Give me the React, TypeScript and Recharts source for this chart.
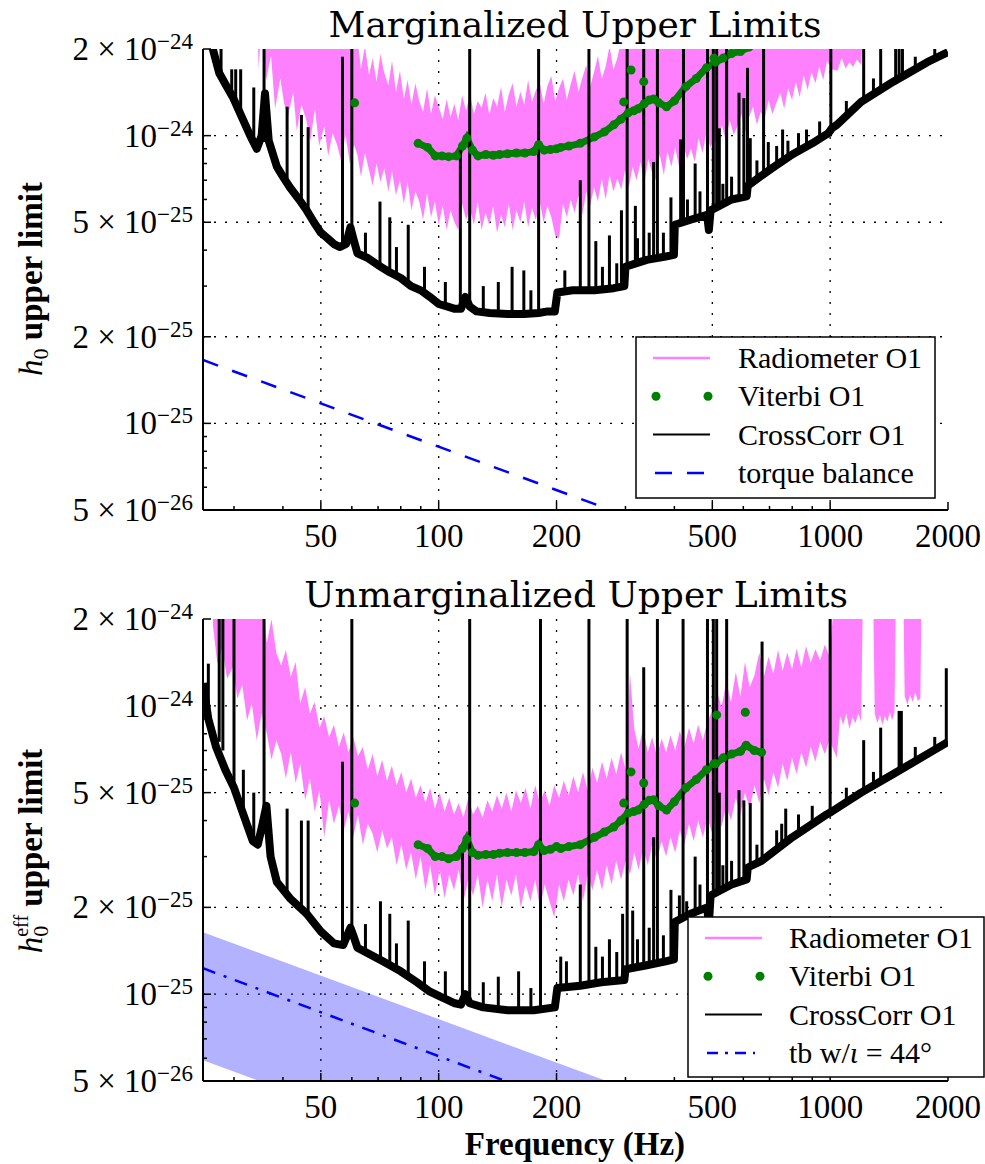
import React from 'react'
import { ComposedChart, Line, Area, XAxis, YAxis, CartesianGrid } from 'recharts'

const SERIF = '"Liberation Serif", "Times New Roman", serif'
const TITLE_FONT = '"DejaVu Serif", serif'
const PINK = '#ff80ff'
const GREEN = '#008000'
const BLUE = '#0000ff'

// frequency axis (Hz)
const X_MAJOR = [50, 100, 200, 500, 1000, 2000]
const X_MINOR = [30, 40, 60, 70, 80, 90, 300, 400, 600, 700, 800, 900]
const X_GRID = [50, 100, 200, 500, 1000]
const X_TICKS = [...X_MAJOR, ...X_MINOR].sort((a, b) => a - b)

// strain axis, values in units of 1e-25
const Y_MAJOR = [0.5, 1, 2, 5, 10, 20]
const Y_MINOR = [0.6, 0.7, 0.8, 0.9, 3, 4, 6, 7, 8, 9]
const Y_GRID = [1, 2, 5, 10]
const Y_TICKS = [...Y_MAJOR, ...Y_MINOR].sort((a, b) => a - b)
const Y_LABELS: Record<string, [string, string]> = {
  '20': ['2 × 10', '−24'],
  '10': ['10', '−24'],
  '5': ['5 × 10', '−25'],
  '2': ['2 × 10', '−25'],
  '1': ['10', '−25'],
  '0.5': ['5 × 10', '−26'],
}

// ---- Marginalized (top) ----
// radiometer band: [f, low, high]
const RAD_TOP: [number, number, number][] = [
  [34.2, 30, 30], [34.7, 17, 30], [35.3, 26, 30], [36.2, 15.5, 30], [37.3, 19, 30], [38.2, 12.4, 30],
  [39.4, 15.8, 30], [40.3, 12.9, 30], [41.2, 11.6, 30], [42.5, 14.2, 30], [43.4, 10.4, 30], [44.6, 12.8, 30],
  [45.8, 11.5, 30], [47, 9.6, 30], [48.3, 12.4, 30], [49.5, 9.2, 30], [51, 10.8, 30], [52.2, 8.5, 30],
  [53.6, 10.2, 30], [55, 9.3, 30], [56.3, 8.2, 30], [57.8, 10.1, 30], [59.3, 8.0, 30], [60.8, 9.3, 30],
  [62, 8.6, 22], [63.3, 7.2, 17], [64.8, 8.7, 20.5], [66.4, 7.6, 16.2], [67.8, 6.7, 18.6], [69.4, 8.0, 15.4],
  [71, 6.9, 19.2], [72.6, 7.7, 16.5], [74.4, 6.4, 15.0], [76, 7.5, 18.2], [77.8, 6.2, 14.2], [79.6, 7.0, 16.8],
  [81.5, 5.8, 13.4], [83.3, 6.9, 15.6], [85.2, 5.5, 12.8], [87.2, 6.4, 15.2], [89.2, 5.9, 13.2], [91.2, 5.1, 12.1],
  [93.4, 6.3, 14.6], [95.6, 5.2, 11.9], [97.8, 5.9, 13.8], [100, 4.9, 12.6], [102.4, 5.7, 11.4], [104.8, 4.7, 13.4],
  [107.2, 5.5, 11.6], [109.7, 5.0, 12.9], [112.2, 4.7, 11.3], [114.8, 5.8, 13.8], [117.5, 5.1, 12.2], [120.2, 5.6, 14.0],
  [123, 4.9, 11.9], [125.8, 5.9, 13.2], [128.7, 4.7, 12.5], [131.7, 5.4, 14.1], [134.7, 4.9, 11.8], [137.8, 5.7, 13.5],
  [141, 4.6, 12.6], [144.3, 5.3, 14.8], [147.6, 4.8, 12.1], [151, 5.8, 13.9], [154.5, 4.7, 15.2], [158, 5.5, 12.6],
  [161.7, 5.0, 14.2], [165.4, 5.9, 12.8], [169.2, 4.8, 15.6], [173.1, 5.6, 13.1], [177.1, 5.1, 14.4], [181.2, 5.9, 15.2],
  [185.4, 5.0, 12.9], [189.6, 5.7, 14.9], [194, 5.2, 16.1], [198.5, 4.5, 13.2], [203, 4.4, 14.6], [207.7, 5.8, 15.8],
  [212.5, 5.2, 13.3], [217.4, 6.0, 15.1], [222.4, 5.4, 16.8], [227.6, 6.2, 14.2], [232.8, 5.3, 15.9], [238.2, 6.4, 17.6],
  [243.7, 5.7, 14.8], [249.3, 6.6, 16.6], [255.1, 5.9, 18.9], [261, 7.1, 15.8], [267, 6.0, 17.4], [273.2, 7.3, 20.5],
  [279.5, 6.4, 16.9], [286, 7.1, 18.6], [292.6, 6.5, 21.5], [299.3, 7.6, 30], [306, 6.6, 30], [313, 7.8, 30],
  [320, 7.0, 30], [328, 8.1, 30], [335, 6.8, 30], [343, 8.3, 30], [351, 7.4, 30], [359, 7.0, 30],
  [367, 8.6, 30], [376, 7.3, 30], [384, 8.8, 30], [393, 7.8, 30], [402, 9.1, 30], [412, 7.7, 30],
  [421, 9.4, 30], [431, 8.3, 30], [441, 9.0, 30], [451, 8.1, 30], [461, 9.8, 30], [472, 8.7, 30],
  [483, 10.3, 30], [494, 9.1, 30], [505, 9.7, 30], [517, 9.2, 30], [529, 10.9, 30], [541, 9.6, 30],
  [554, 11.3, 30], [567, 10.1, 30], [580, 10.8, 30], [593, 11.9, 30], [607, 10.3, 30], [621, 11.6, 30],
  [635, 12.6, 30], [650, 10.9, 30], [665, 12.1, 30], [680, 11.4, 30], [696, 13.3, 30], [712, 11.9, 30],
  [729, 13.0, 30], [746, 14.1, 30], [763, 12.4, 30], [781, 14.6, 30], [799, 13.3, 30], [817, 15.4, 30],
  [836, 13.6, 30], [856, 16.2, 30], [876, 14.4, 30], [896, 16.6, 30], [917, 15.2, 30], [938, 17.4, 30],
  [960, 15.6, 30], [982, 18.2, 30], [1010, 17.0, 30], [1045, 16.8, 30], [1070, 18.6, 30], [1095, 17.1, 30],
  [1120, 18.0, 30], [1145, 17.3, 30], [1170, 18.4, 30], [1200, 17.6, 30], [1225, 30, 30],
]

const VIT_TOP: [number, number][] = [
  [88.6, 9.4], [93.7, 9.1], [98, 8.5], [102, 8.5], [106, 8.45], [111, 8.5], [115, 9.2], [118, 9.8],
  [122, 8.9], [126, 8.5], [132, 8.6], [138, 8.55], [143, 8.6], [150, 8.65], [158, 8.7], [166, 8.7],
  [175, 8.8], [180, 9.3], [186, 8.9], [193, 8.95], [200, 9.0], [205, 9.1], [215, 9.2], [230, 9.4],
  [250, 9.9], [265, 10.3], [280, 10.9], [292, 11.4], [305, 12.0], [315, 12.2], [323, 12.4], [335, 12.9],
  [345, 13.3], [354, 13.4], [365, 13.0], [382, 12.6], [400, 13.2], [428, 14.8], [455, 15.8], [483, 17.2],
  [510, 18.0], [533, 18.6], [560, 19.3], [590, 19.6], [620, 20.3], [650, 21],
]
const VIT_TOP_OUT: [number, number][] = [[61, 13], [297, 13.1], [310, 16.9], [334, 15.4], [505, 18.6]]

const CC_TOP: [number, number][] = [
  [25, 26], [26, 22], [27.5, 16.5], [28.6, 15], [29.8, 13.6], [31.5, 11.5], [33, 10], [34.3, 9.0],
  [35.3, 10], [36, 14], [36.8, 9.6], [38.6, 7.8], [40, 7.2], [41.7, 6.6], [44, 6.0], [46, 5.5],
  [48, 5.0], [50, 4.6], [52, 4.4], [54, 4.2], [56, 4.1], [58, 4.2], [59.5, 4.8], [60.5, 4.4],
  [62, 3.9], [66, 3.75], [70, 3.55], [75, 3.35], [80, 3.2], [85, 3.0], [90, 2.9], [95, 2.75],
  [100, 2.6], [105, 2.55], [110, 2.5], [114, 2.5], [117, 2.75], [120, 2.55], [125, 2.45], [135, 2.42],
  [150, 2.4], [165, 2.4], [180, 2.42], [190, 2.45], [198, 2.45], [201, 2.85], [220, 2.9], [250, 2.9],
  [280, 2.95], [298, 3.0], [300, 3.5], [340, 3.7], [380, 3.8], [399, 3.85], [401, 4.9], [440, 5.1],
  [485, 5.3], [490, 4.7], [495, 5.5], [560, 6.0], [612, 6.15], [616, 6.7], [700, 7.6], [800, 8.6],
  [900, 9.4], [990, 10.2], [1010, 10.6], [1040, 10.9], [1200, 13.1], [1450, 15.4], [1770, 18], [2000, 19.5],
]
// spectral lines and noise spikes: [f, base, peak]
const CC_TOP_LINES: [number, number, number][] = [
  [26, 22, 40], [27.8, 16, 40], [29.6, 14, 17], [30.3, 13, 17], [31.2, 12, 17], [33.7, 9.5, 14.7],
  [35.8, 9.5, 40], [41, 6.8, 12.6], [44.6, 5.9, 11.8], [46.4, 5.5, 10.7], [56.8, 4.1, 18.8], [60, 4.5, 40],
  [65, 3.8, 4.6], [70.8, 3.6, 5.9], [75, 3.4, 5.2], [78, 3.3, 4.1], [83.6, 3.1, 4.9], [92, 2.85, 3.5],
  [104, 2.55, 3.1], [113.6, 2.5, 9.3], [120, 2.5, 40], [130, 2.43, 3.0], [142, 2.4, 3.1], [154, 2.4, 3.5],
  [165, 2.4, 3.4], [172, 2.4, 2.9], [180, 2.4, 40], [210, 2.85, 3.4], [230, 2.9, 7.0], [242, 2.9, 40],
  [252, 2.9, 4.3], [262, 2.9, 3.5], [273, 2.95, 4.5], [285, 2.95, 3.6], [293, 3.0, 5.5], [303, 3.5, 40],
  [318, 3.6, 5.7], [322, 3.6, 4.4], [334, 3.65, 40], [345, 3.7, 4.6], [354, 3.7, 8.1], [362, 3.75, 40],
  [375, 3.8, 4.6], [392, 3.85, 6.1], [415, 5.0, 9.7], [422, 5.0, 40], [432, 5.0, 6.0], [452, 5.1, 8.0],
  [465, 5.2, 6.4], [486, 5.3, 40], [503, 5.6, 40], [513, 5.7, 40], [521, 5.7, 10.6], [532, 5.8, 6.8],
  [544, 5.8, 40], [560, 6.0, 7.2], [585, 6.0, 14.1], [602, 6.1, 13.5], [615, 6.5, 17.2], [625, 6.7, 9.8],
  [650, 7.0, 8.2], [676, 7.4, 40], [695, 7.6, 9.5], [730, 7.9, 9.2], [756, 8.2, 10.5], [780, 8.4, 9.6],
  [830, 8.8, 10.2], [870, 9.1, 10.5], [940, 9.7, 11.2], [1004, 10.3, 40], [1100, 11.8, 13.2], [1218, 13.2, 40],
  [1290, 14, 15.8], [1346, 14.5, 40], [1470, 15.5, 40], [1500, 15.7, 40], [1530, 16, 40], [1650, 17, 18.8],
  [1850, 18.5, 20],
]
const TB_TOP: [number, number][] = [[25, 1.66], [275, 0.5]]

// ---- Unmarginalized (bottom) ----
const RAD_BOT: [number, number, number][] = [
  [26.5, 19, 30], [27.2, 14, 30], [28, 16, 30], [28.8, 12.4, 30], [29.8, 13.6, 30], [30.6, 10.6, 30],
  [31.5, 11.8, 30], [32.4, 8.9, 30], [33.3, 10.2, 30], [34.3, 7.6, 30], [35.3, 9.4, 24], [36.4, 8.0, 16.5],
  [37.4, 6.5, 20], [38.5, 7.6, 15.2], [39.6, 6.8, 13.8], [40.7, 5.6, 15.6], [41.9, 6.9, 12.6], [43.1, 5.4, 14.2],
  [44.3, 6.3, 10.2], [45.6, 4.7, 11.6], [46.9, 5.6, 9.4], [48.2, 4.3, 10.3], [49.6, 5.1, 8.4], [51, 3.5, 9.2],
  [52.5, 4.7, 7.8], [54, 3.9, 8.6], [55.6, 4.5, 7.2], [57.2, 3.7, 8.1], [58.8, 4.3, 6.9], [60.5, 3.5, 7.8],
  [62.2, 4.2, 6.7], [64, 3.3, 7.2], [65.9, 3.9, 6.0], [67.8, 3.6, 6.8], [69.7, 3.1, 5.7], [71.7, 3.7, 6.5],
  [73.8, 3.2, 5.5], [75.9, 3.5, 6.2], [78.1, 2.8, 5.3], [80.3, 3.3, 5.9], [82.6, 2.7, 5.0], [85, 3.1, 5.6],
  [87.4, 2.5, 4.8], [89.9, 3.0, 5.3], [92.5, 2.3, 4.6], [95.1, 2.8, 5.2], [97.8, 2.2, 4.4], [100.6, 2.7, 5.0],
  [103.5, 2.15, 4.3], [106.4, 2.6, 4.8], [109.4, 2.3, 4.2], [112.5, 2.7, 4.6], [115.7, 2.1, 4.1], [119, 2.5, 4.8],
  [122.4, 2.2, 4.2], [125.9, 2.6, 4.5], [129.5, 2.0, 4.1], [133.2, 2.5, 4.7], [137, 2.1, 4.3], [140.9, 2.6, 4.9],
  [144.9, 2.0, 4.4], [149, 2.5, 5.0], [153.3, 2.2, 4.3], [157.6, 2.6, 5.1], [162.1, 2.0, 4.6], [166.7, 2.4, 5.2],
  [171.5, 2.1, 4.4], [176.4, 2.5, 5.3], [181.4, 2.0, 4.6], [186.6, 2.4, 5.1], [191.9, 2.1, 4.5], [197.3, 1.85, 5.3],
  [203, 2.4, 4.8], [208.8, 2.1, 5.5], [214.7, 2.5, 4.9], [220.8, 2.2, 5.7], [227.1, 2.6, 5.0], [233.6, 2.1, 5.9],
  [240.2, 2.6, 5.1], [247, 2.3, 6.1], [254, 2.7, 5.4], [261.3, 2.3, 6.4], [268.7, 2.8, 5.6], [276.4, 2.4, 6.6],
  [284.2, 2.9, 5.8], [292.3, 2.5, 6.9], [300.6, 2.9, 6.0], [308, 2.6, 13], [316, 3.1, 8.3], [324, 2.7, 7.1],
  [333, 3.2, 8.4], [342, 2.8, 6.9], [351, 3.3, 7.8], [361, 2.9, 6.7], [371, 3.4, 7.7], [381, 3.0, 6.9],
  [391, 3.5, 7.9], [402, 3.1, 7.0], [413, 3.7, 8.2], [424, 3.3, 7.2], [436, 3.9, 8.4], [448, 3.4, 7.4],
  [460, 4.0, 8.6], [473, 3.5, 7.6], [486, 4.1, 8.9], [500, 3.6, 9.6], [514, 4.3, 11.2], [528, 3.8, 9.9],
  [543, 4.5, 12.2], [558, 4.0, 10.3], [574, 4.8, 13.1], [590, 4.2, 10.8], [606, 5.0, 14.2], [623, 4.4, 11.6],
  [641, 5.3, 12.8], [659, 4.6, 15.3], [677, 5.6, 12.6], [696, 4.9, 14.8], [716, 5.9, 12.9], [736, 5.2, 15.6],
  [756, 6.3, 13.2], [777, 5.5, 15.3], [799, 6.6, 13.4], [821, 5.8, 15.8], [844, 6.9, 13.6], [868, 6.1, 16.1],
  [892, 7.2, 14.1], [917, 6.4, 15.7], [943, 7.5, 14.4], [969, 6.8, 16.3], [996, 7.6, 14.8], [1040, 6.6, 30],
  [1060, 9.2, 30], [1080, 8.6, 30], [1100, 9.4, 30], [1120, 8.3, 30], [1140, 9.1, 30], [1160, 8.7, 30],
  [1180, 9.4, 30], [1200, 8.8, 30], [1215, 30, 30], [1285, 30, 30], [1300, 9.4, 30], [1320, 8.7, 30],
  [1340, 9.3, 30], [1360, 8.6, 30], [1380, 9.2, 30], [1400, 8.8, 30], [1420, 9.5, 30], [1440, 8.9, 30],
  [1460, 9.5, 30], [1475, 30, 30], [1535, 30, 30], [1550, 10.8, 30], [1575, 10.1, 30], [1600, 10.9, 30],
  [1625, 10.3, 30], [1650, 11.1, 30], [1675, 10.4, 30], [1700, 10.6, 30], [1715, 30, 30],
]

const VIT_BOT: [number, number][] = [
  [88.6, 3.3], [93.7, 3.2], [98, 3.0], [102, 3.0], [106, 2.95], [111, 3.0], [115, 3.2], [118, 3.45],
  [122, 3.1], [126, 3.03], [132, 3.05], [138, 3.05], [143, 3.08], [150, 3.1], [158, 3.1], [166, 3.1],
  [175, 3.12], [180, 3.3], [186, 3.15], [193, 3.18], [200, 3.25], [205, 3.2], [215, 3.25], [230, 3.3],
  [250, 3.5], [265, 3.65], [280, 3.8], [292, 4.0], [305, 4.25], [315, 4.3], [323, 4.35], [335, 4.55],
  [345, 4.7], [354, 4.72], [365, 4.5], [382, 4.35], [400, 4.65], [428, 5.2], [455, 5.55], [483, 6.0],
  [510, 6.3], [533, 6.6], [560, 6.8], [590, 6.95], [610, 7.3], [640, 7.0], [668, 6.9],
]
const VIT_BOT_OUT: [number, number][] = [[61, 4.6], [297, 4.6], [310, 5.9], [334, 5.4], [505, 6.3], [513, 9.3], [607, 9.5]]

const CC_BOT: [number, number][] = [
  [25, 12], [25.8, 9], [27, 7.2], [28.5, 6.0], [30, 5.2], [31.7, 4.2], [33.5, 3.4], [34.5, 3.3],
  [35.5, 3.9], [36.3, 4.5], [37.2, 3.0], [38.6, 2.45], [41.7, 2.15], [46, 1.9], [50, 1.65], [54, 1.5],
  [57, 1.48], [59.5, 1.7], [60.5, 1.6], [62, 1.45], [72, 1.3], [80, 1.2], [88, 1.1], [95, 1.02],
  [101, 0.98], [110, 0.93], [114, 0.92], [117, 1.0], [120, 0.93], [130, 0.9], [150, 0.88], [175, 0.88],
  [198, 0.9], [201, 1.05], [230, 1.07], [260, 1.1], [298, 1.12], [300, 1.22], [340, 1.26], [380, 1.3],
  [399, 1.32], [401, 1.78], [440, 1.9], [485, 2.0], [490, 1.75], [495, 2.2], [560, 2.4], [612, 2.5],
  [616, 2.75], [668, 2.9], [800, 3.5], [980, 4.2], [1010, 4.3], [1200, 5.0], [1450, 5.8], [1770, 6.8],
  [2000, 7.5],
]
const CC_BOT_LINES: [number, number, number][] = [
  [25.8, 10, 14], [27.5, 7.5, 40], [28.1, 7.0, 40], [30, 5.2, 40], [31.7, 4.2, 6.0], [33.7, 3.4, 5.0],
  [35.8, 3.6, 40], [41, 2.2, 4.4], [44.6, 1.95, 4.0], [46.4, 1.9, 4.0], [56.8, 1.5, 6.4], [60, 1.6, 40],
  [65, 1.42, 1.75], [71, 1.3, 2.1], [75, 1.26, 1.9], [78, 1.22, 1.5], [83.6, 1.15, 1.8], [92, 1.06, 1.3],
  [104, 0.96, 1.2], [115, 0.92, 3.1], [120, 0.93, 40], [130, 0.9, 1.1], [142, 0.89, 1.15], [160, 0.88, 1.2],
  [172, 0.88, 1.05], [182, 0.88, 40], [205, 1.05, 1.35], [212, 1.06, 1.3], [230, 1.07, 2.4], [242, 1.08, 40],
  [252, 1.1, 1.46], [262, 1.1, 1.35], [273, 1.1, 1.55], [285, 1.11, 1.4], [295, 1.12, 1.9], [303, 1.22, 40],
  [313, 1.23, 1.95], [322, 1.24, 1.55], [334, 1.25, 13.6], [345, 1.26, 1.7], [354, 1.27, 3.5], [362, 1.28, 40],
  [375, 1.3, 1.6], [392, 1.32, 2.3], [412, 1.82, 2.2], [421, 1.85, 40], [430, 1.85, 2.1], [452, 1.9, 3.0],
  [465, 1.95, 2.4], [486, 2.0, 40], [503, 2.3, 40], [513, 2.3, 40], [521, 2.35, 5.0], [532, 2.35, 2.8],
  [544, 2.4, 40], [560, 2.4, 2.9], [585, 2.45, 5.1], [602, 2.5, 4.7], [625, 2.75, 4.6], [650, 2.85, 3.3],
  [670, 2.9, 16.7], [730, 3.1, 3.7], [752, 3.2, 3.9], [770, 3.3, 4.4], [830, 3.6, 4.2], [900, 3.85, 4.5],
  [1000, 4.25, 40], [1100, 4.6, 5.2], [1218, 5.0, 7.6], [1290, 5.2, 5.9], [1346, 5.4, 8.4], [1500, 5.9, 9.6],
  [1520, 6.0, 9.6], [1650, 6.4, 7.2], [1850, 7.0, 7.8], [1980, 7.5, 13.5],
]
// torque balance band over inclinations and the iota = 44 deg curve
const TB_BAND: [number, number, number][] = [[25, 0.59, 1.64], [300, 0.17, 0.473]]
const TB_44: [number, number][] = [[25, 1.23], [148, 0.5]]

const toLine = (a: [number, number][]) => a.map(([f, v]) => ({ f, v }))
const toRange = (a: [number, number, number][]) => a.map(([f, lo, hi]) => ({ f, r: [lo, hi] }))

function BottomTick(props: any) {
  const { x, y, payload } = props
  const major = X_MAJOR.includes(payload.value)
  return (
    <g>
      <line x1={x} y1={y} x2={x} y2={y - (major ? 8 : 4)} stroke="#000" strokeWidth={1.5} />
      {major && (
        <text x={x} y={y + 37} textAnchor="middle" fontFamily={SERIF} fontSize={33} fill="#000">
          {payload.value}
        </text>
      )}
    </g>
  )
}

function TopTick(props: any) {
  const { x, y, payload } = props
  const major = X_MAJOR.includes(payload.value)
  return <line x1={x} y1={y} x2={x} y2={y + (major ? 8 : 4)} stroke="#000" strokeWidth={1.5} />
}

function LeftTick(props: any) {
  const { x, y, payload } = props
  const lab = Y_LABELS[String(payload.value)]
  return (
    <g>
      <line x1={x} y1={y} x2={x + (lab ? 8 : 4)} y2={y} stroke="#000" strokeWidth={1.5} />
      {lab && (
        <text x={x - 10} y={y + 11} textAnchor="end" fontFamily={SERIF} fontSize={33} fill="#000">
          {lab[0]}
          <tspan fontSize={23} dy={-11}>{lab[1]}</tspan>
        </text>
      )}
    </g>
  )
}

function RightTick(props: any) {
  const { x, y, payload } = props
  const major = Y_MAJOR.includes(payload.value)
  return <line x1={x} y1={y} x2={x - (major ? 8 : 4)} y2={y} stroke="#000" strokeWidth={1.5} />
}

const frame = { stroke: '#000', strokeWidth: 2 }

function panel(
  height: number,
  bottom: number,
  rad: [number, number, number][],
  vit: [number, number][],
  vitOut: [number, number][],
  cc: [number, number][],
  lines: [number, number, number][],
  extras: React.ReactElement[],
) {
  return (
    <ComposedChart width={985} height={height} margin={{ top: 49, right: 37, bottom, left: 8 }}>
      <Area xAxisId="x" yAxisId="y" data={toRange(rad)} dataKey="r" type="linear" stroke="none"
        fill={PINK} fillOpacity={1} isAnimationActive={false} />
      <Line xAxisId="x" yAxisId="y" data={toLine(vit)} dataKey="v" type="linear" stroke={GREEN}
        strokeWidth={7} dot={{ r: 4.5, fill: GREEN, stroke: GREEN, strokeWidth: 0 }} activeDot={false}
        isAnimationActive={false} />
      <Line xAxisId="x" yAxisId="y" data={toLine(vitOut)} dataKey="v" stroke="none"
        dot={{ r: 4.5, fill: GREEN, stroke: GREEN, strokeWidth: 0 }} activeDot={false} isAnimationActive={false} />
      <Line xAxisId="x" yAxisId="y" data={toLine(cc)} dataKey="v" type="linear" stroke="#000"
        strokeWidth={8} strokeLinejoin="round" dot={false} activeDot={false} isAnimationActive={false} />
      {lines.map(([f, lo, hi], i) => (
        <Line key={'s' + i} xAxisId="x" yAxisId="y" data={[{ f, v: lo }, { f, v: hi }]} dataKey="v"
          stroke="#000" strokeWidth={3} dot={false} activeDot={false} isAnimationActive={false} />
      ))}
      {extras}
      <CartesianGrid xAxisId="x" yAxisId="y" verticalValues={X_GRID} horizontalValues={Y_GRID}
        stroke="#000" strokeWidth={1.3} strokeDasharray="2 9" />
      <XAxis xAxisId="x" dataKey="f" type="number" scale="log" domain={[25, 2000]} allowDataOverflow
        ticks={X_TICKS} interval={0} tickSize={0} tickMargin={0} tickLine={false} tick={<BottomTick />}
        height={50} axisLine={frame} />
      <XAxis xAxisId="t" orientation="top" dataKey="f" type="number" scale="log" domain={[25, 2000]}
        allowDataOverflow ticks={X_TICKS} interval={0} tickSize={0} tickMargin={0} tickLine={false}
        tick={<TopTick />} height={0} axisLine={frame} />
      <YAxis yAxisId="y" type="number" scale="log" domain={[0.5, 20]} allowDataOverflow ticks={Y_TICKS}
        interval={0} tickSize={0} tickMargin={0} tickLine={false} tick={<LeftTick />} width={195}
        axisLine={frame} />
      <YAxis yAxisId="r" orientation="right" type="number" scale="log" domain={[0.5, 20]} allowDataOverflow
        ticks={Y_TICKS} interval={0} tickSize={0} tickMargin={0} tickLine={false} tick={<RightTick />}
        width={0} axisLine={frame} />
    </ComposedChart>
  )
}

type Row = { kind: string; label: React.ReactNode }

function LegendBox({ x, y, w, h, sx, tx, rows }: { x: number; y: number; w: number; h: number; sx: number; tx: number; rows: Row[] }) {
  return (
    <g>
      <rect x={x} y={y} width={w} height={h} fill="#fff" stroke="#000" strokeWidth={1.5} />
      {rows.map((r, i) => {
        const cy = y + 21 + i * 38.3
        let sample: React.ReactNode = null
        if (r.kind === 'pink') sample = <line x1={sx} x2={sx + 57} y1={cy} y2={cy} stroke={PINK} strokeWidth={2.5} />
        if (r.kind === 'dots') sample = (
          <g>
            <circle cx={sx + 3} cy={cy} r={4.5} fill={GREEN} />
            <circle cx={sx + 55} cy={cy} r={4.5} fill={GREEN} />
          </g>
        )
        if (r.kind === 'black') sample = <line x1={sx} x2={sx + 57} y1={cy} y2={cy} stroke="#000" strokeWidth={2} />
        if (r.kind === 'dash') sample = <line x1={sx + 2} x2={sx + 52} y1={cy} y2={cy} stroke={BLUE} strokeWidth={2.5} strokeDasharray="17 15" />
        if (r.kind === 'dashdot') sample = <line x1={sx + 2} x2={sx + 50} y1={cy} y2={cy} stroke={BLUE} strokeWidth={2.5} strokeDasharray="11 7 3 7" />
        return (
          <g key={i}>
            {sample}
            <text x={tx} y={cy + 10} fontFamily={SERIF} fontSize={30} fill="#000">{r.label}</text>
          </g>
        )
      })}
    </g>
  )
}

export default function App() {
  const topExtras = [
    <Line key="tb" xAxisId="x" yAxisId="y" data={toLine(TB_TOP)} dataKey="v" stroke={BLUE} strokeWidth={2.5}
      strokeDasharray="16 15" dot={false} activeDot={false} isAnimationActive={false} />,
  ]
  const botExtras = [
    <Area key="band" xAxisId="x" yAxisId="y" data={toRange(TB_BAND)} dataKey="r" type="linear" stroke="none"
      fill={BLUE} fillOpacity={0.3} isAnimationActive={false} />,
    <Line key="tb44" xAxisId="x" yAxisId="y" data={toLine(TB_44)} dataKey="v" stroke={BLUE} strokeWidth={2.5}
      strokeDasharray="13 9 3 9" dot={false} activeDot={false} isAnimationActive={false} />,
  ]
  return (
    <div style={{ position: 'absolute', left: 0, top: 0, width: 985, height: 1164, background: '#fff' }}>
      <div style={{ position: 'absolute', left: 0, top: 0 }}>
        {panel(570, 10, RAD_TOP, VIT_TOP, VIT_TOP_OUT, CC_TOP, CC_TOP_LINES, topExtras)}
      </div>
      <div style={{ position: 'absolute', left: 0, top: 570 }}>
        {panel(594, 33, RAD_BOT, VIT_BOT, VIT_BOT_OUT, CC_BOT, CC_BOT_LINES, botExtras)}
      </div>
      <svg width={985} height={1164} style={{ position: 'absolute', left: 0, top: 0, pointerEvents: 'none' }}>
        <text x={575} y={37} textAnchor="middle" fontFamily={TITLE_FONT} fontSize={36}>Marginalized Upper Limits</text>
        <text x={576} y={607} textAnchor="middle" fontFamily={TITLE_FONT} fontSize={36}>Unmarginalized Upper Limits</text>
        <text x={42} y={279} transform="rotate(-90 42 279)" textAnchor="middle" fontFamily={SERIF} fontSize={33} fontWeight="bold">
          <tspan fontStyle="italic" fontWeight="normal">h</tspan>
          <tspan fontSize={22} fontWeight="normal" dy={6}>0</tspan>
          <tspan dy={-6}> upper limit</tspan>
        </text>
        <text x={42} y={851} transform="rotate(-90 42 851)" textAnchor="middle" fontFamily={SERIF} fontSize={33} fontWeight="bold">
          <tspan fontStyle="italic" fontWeight="normal">h</tspan>
          <tspan fontSize={22} fontWeight="normal" dy={6}>0</tspan>
          <tspan fontSize={20} fontWeight="normal" dx={-11} dy={-20}>eff</tspan>
          <tspan dy={14}> upper limit</tspan>
        </text>
        <text x={575} y={1155} textAnchor="middle" fontFamily={SERIF} fontSize={33} fontWeight="bold">Frequency (Hz)</text>
        <LegendBox x={636} y={337} w={299} h={161} sx={653} tx={738} rows={[
          { kind: 'pink', label: 'Radiometer O1' },
          { kind: 'dots', label: 'Viterbi O1' },
          { kind: 'black', label: 'CrossCorr O1' },
          { kind: 'dash', label: 'torque balance' },
        ]} />
        <LegendBox x={688} y={917} w={296} h={160} sx={705} tx={789} rows={[
          { kind: 'pink', label: 'Radiometer O1' },
          { kind: 'dots', label: 'Viterbi O1' },
          { kind: 'black', label: 'CrossCorr O1' },
          { kind: 'dashdot', label: <>tb w/<tspan fontStyle="italic">ι</tspan> = 44°</> },
        ]} />
      </svg>
    </div>
  )
}
